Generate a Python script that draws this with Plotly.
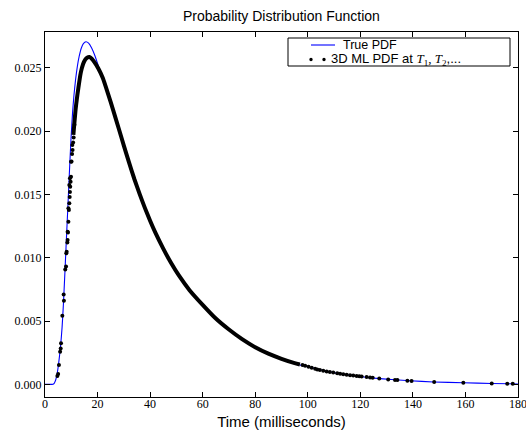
import plotly.graph_objects as go

# ---- data (y values in units of 1e-3) ----
true_t = [0, 2, 3.0, 3.5, 4.0, 4.5, 5.0, 5.5, 6.0, 6.5, 7.0, 7.5, 8.0, 8.5, 9.0, 9.5,
          10.0, 10.5, 11.0, 11.6, 12.3, 13.0, 13.8, 14.6, 15.6, 16.6, 17.8, 19.0, 20.3,
          21.5, 22.5, 24, 26, 28, 30, 32, 34, 36, 38, 40, 42, 45, 48, 51, 55, 60, 65,
          70, 75, 80, 85, 90, 95, 100.3, 110.3, 119.9, 127.4, 138.9, 147.8, 159.2, 170,
          180]
true_pdf = [0, 0, 0.0, 0.08, 0.3, 0.7, 1.35, 2.2, 3.2, 4.5, 6.3, 8.5, 10.8, 13.1, 15.4,
            17.7, 19.8, 21.5, 22.8, 24.0, 25.1, 25.9, 26.55, 26.92, 27.06, 26.95, 26.55,
            25.95, 25.15, 24.38, 23.75, 22.82, 21.52, 20.16, 18.78, 17.43, 16.15, 14.98,
            13.88, 12.86, 11.92, 10.66, 9.52, 8.52, 7.38, 6.22, 5.15, 4.29, 3.53, 2.89,
            2.38, 1.98, 1.65, 1.37, 0.92, 0.62, 0.45, 0.28, 0.19, 0.12, 0.07, 0.03]

# dense part of the ML estimates (overlapping dots form a thick band)
band_t = [10.8, 11.7, 12.7, 13.6, 14.5, 15.3, 16.0, 16.9, 17.8, 18.8, 20.3, 22, 24, 26,
          28, 30, 32, 34, 36, 38, 40, 42, 45, 48, 51, 55, 60, 65, 70, 75, 80, 85, 90,
          95, 97]
band_pdf = [19.7, 21.8, 23.4, 24.6, 25.3, 25.65, 25.8, 25.85, 25.72, 25.45, 24.95, 24.2,
            22.95, 21.62, 20.25, 18.86, 17.51, 16.22, 15.04, 13.94, 12.92, 11.98, 10.72,
            9.58, 8.58, 7.44, 6.28, 5.2, 4.33, 3.57, 2.93, 2.42, 2.02, 1.68, 1.57]

# scattered ML estimates
dot_t = [4.7, 5.0, 5.3, 5.75, 5.97, 6.1, 6.6, 7.2, 7.1, 7.7, 8.0, 8.1, 8.25, 8.5, 8.6,
         8.6, 8.75, 8.9, 8.9, 9.1, 9.25, 9.25, 9.4, 9.5, 9.5, 9.6, 9.75, 9.9, 9.9, 10.1,
         10.3, 10.4, 10.5, 10.7, 10.9, 11.2,
         98.0, 99.0, 100.3, 101.5, 102.8, 103.6, 104.6, 105.9, 107.2, 108.4, 109.7,
         111.2, 112.3, 113.5, 114.8, 116.1, 117.3, 118.6, 119.6, 120.5, 122.4, 123.7,
         124.7, 127.2, 130.6, 133.2, 134.1, 137.9, 139.5, 148.1, 159.2, 170.0, 175.9,
         178.0]
dot_pdf = [0.66, 0.81, 1.53, 2.58, 2.84, 3.24, 5.42, 6.6, 7.1, 9.08, 9.3, 10.35, 10.47,
           11.2, 11.4, 12.05, 12.0, 12.85, 13.9, 13.77, 14.3, 15.74, 14.8, 15.2, 16.27,
           15.6, 16.0, 16.4, 17.58, 17.6, 18.2, 18.9, 18.5, 19.1, 19.5, 20.5,
           1.52, 1.46, 1.39, 1.31, 1.23, 1.18, 1.13, 1.08, 1.02, 0.97, 0.93, 0.87, 0.84,
           0.80, 0.76, 0.72, 0.69, 0.66, 0.63, 0.61, 0.57, 0.54, 0.52, 0.46, 0.39, 0.35,
           0.34, 0.29, 0.27, 0.18, 0.12, 0.07, 0.05, 0.04]

x_ticks = [0, 20, 40, 60, 80, 100, 120, 140, 160, 180]
y_ticks = [0.000, 0.005, 0.010, 0.015, 0.020, 0.025]

legend_labels = ["True PDF",
                 "3D ML PDF at <span style='font-family:Liberation Serif'><i>T</i>"
                 "<sub>1</sub>, <i>T</i><sub>2</sub></span>,..."]

scale = 1e-3
fig = go.Figure()
fig.add_trace(go.Scatter(
    x=true_t, y=[v * scale for v in true_pdf], mode="lines", name=legend_labels[0],
    showlegend=False,
    line=dict(color="#0000ff", width=1.1, shape="spline", smoothing=0.5)))
fig.add_trace(go.Scatter(
    x=band_t, y=[v * scale for v in band_pdf], mode="lines", showlegend=False,
    line=dict(color="black", width=4, shape="spline", smoothing=0.5),
    hoverinfo="skip"))
fig.add_trace(go.Scatter(
    x=dot_t, y=[v * scale for v in dot_pdf], mode="markers", showlegend=False,
    name=legend_labels[1],
    marker=dict(color="black", size=4, line=dict(width=0))))

axis_common = dict(showline=True, linecolor="black", linewidth=1, mirror="ticks",
                   ticks="inside", ticklen=5, tickcolor="black", showgrid=False,
                   zeroline=False, automargin=False, ticklabeloverflow="allow",
                   tickfont=dict(family="Liberation Serif", size=12, color="black"))

# ---- hand-drawn legend box (matplotlib style) ----
L, R, T, B = 45, 518, 32, 397
def px(x):
    return (x - L) / (R - L)
def py(y):
    return (B - y) / (B - T)

shapes = [
    dict(type="rect", xref="paper", yref="paper", x0=px(288), x1=px(510),
         y0=py(66), y1=py(38), line=dict(color="black", width=1), fillcolor="white",
         layer="above"),
    dict(type="line", xref="paper", yref="paper", x0=px(311), x1=px(335),
         y0=py(45), y1=py(45), line=dict(color="#0000ff", width=1.1)),
]
for dx in (311, 324):
    shapes.append(dict(type="circle", xref="paper", yref="paper",
                       xsizemode="pixel", ysizemode="pixel",
                       xanchor=px(dx), yanchor=py(59.5), x0=-1.7, x1=1.7, y0=-1.7, y1=1.7,
                       fillcolor="black", line=dict(width=0)))
annotations = [
    dict(xref="paper", yref="paper", x=px(342), y=py(45), xanchor="left",
         yanchor="middle", showarrow=False, text=legend_labels[0], borderpad=0,
         font=dict(family="Liberation Sans", size=12.5, color="black")),
    dict(xref="paper", yref="paper", x=px(330), y=py(59.5), xanchor="left",
         yanchor="middle", showarrow=False, text=legend_labels[1], borderpad=0,
         font=dict(family="Liberation Sans", size=13, color="black")),
]

fig.update_layout(
    width=526, height=438,
    margin=dict(l=L, r=526 - R, t=T, b=438 - B),
    paper_bgcolor="white", plot_bgcolor="white",
    title=dict(text="Probability Distribution Function", x=0.535, xanchor="center",
               y=0.963, yanchor="middle",
               font=dict(family="Liberation Sans", size=14, color="black")),
    xaxis=dict(range=[0, 180], tickvals=x_ticks, ticktext=[str(v) for v in x_ticks],
               ticklabelstandoff=-4,
               title=dict(text="Time (milliseconds)", standoff=6,
                          font=dict(family="Liberation Sans", size=15, color="black")),
               **axis_common),
    yaxis=dict(range=[-0.001, 0.02783], tickvals=y_ticks, tickformat=".3f",
               **axis_common),
    shapes=shapes,
    annotations=annotations,
    showlegend=False,
)

fig.write_html("out.html",
               config={"displayModeBar": False},
               post_script="document.body.style.margin='0px';"
                           "document.body.style.overflow='hidden';")
